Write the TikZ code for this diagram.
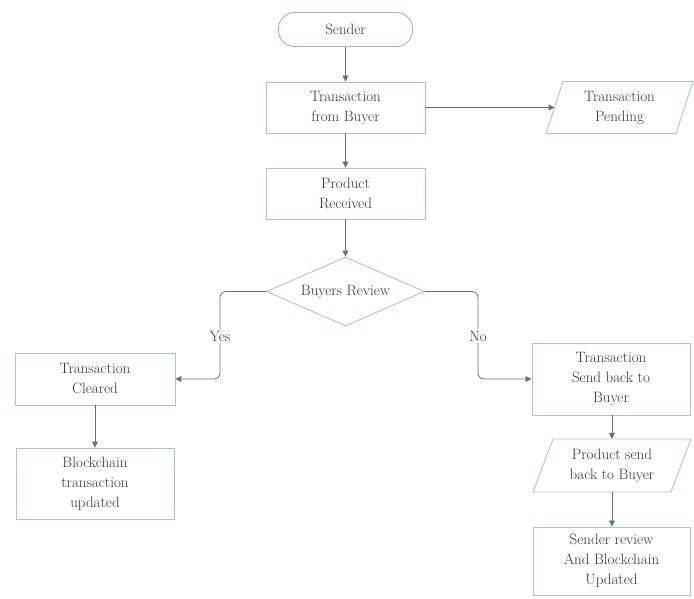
\documentclass[tikz,border=0pt]{standalone}
\usetikzlibrary{arrows.meta,shapes.geometric,calc}
\definecolor{boxc}{HTML}{A9C7C6}
\definecolor{termc}{HTML}{CFA49C}
\definecolor{linec}{HTML}{6E6E6E}
\definecolor{txtc}{HTML}{333333}
\begin{document}
\begin{tikzpicture}[x=1pt,y=-1pt,
  font=\fontsize{15}{20}\selectfont, text=txtc,
  box/.style={draw=boxc, line width=0.9pt, align=center, minimum width=159pt, minimum height=51pt, inner sep=2pt},
  term/.style={draw=termc, line width=0.9pt, rounded corners=16pt, minimum width=134pt, minimum height=34pt},
  iobox/.style={draw=none, align=center, inner sep=0pt, minimum height=52pt},
  ioshape/.style={draw=boxc, line width=0.9pt},
  dec/.style={draw=boxc, line width=0.9pt, diamond, aspect=2.29, inner sep=0pt, minimum width=158pt, minimum height=69pt},
  arr/.style={draw=linec, line width=0.8pt, -{Triangle[length=6pt,width=6pt]}},
  lbl/.style={fill=white, inner sep=1.5pt}]
\useasboundingbox (0,0) rectangle (694,598);

\node[term] (sender) at (345.5,29.5) {Sender};
\node[box] (tfb) at (345.5,107.5) {Transaction\\from Buyer};
\node[iobox, minimum width=110pt] (tp) at (619.5,107.5) {Transaction\\Pending};
\draw[ioshape] ($(tp.center)+(-73.5,26)$) -- ($(tp.center)+(-56.5,-26)$) -- ($(tp.center)+(73.5,-26)$) -- ($(tp.center)+(56.5,26)$) -- cycle;
\coordinate (tpw) at ($(tp.center)+(-65,0)$);
\node[box] (pr) at (345.5,193.5) {Product\\Received};
\node[dec] (br) at (345.5,291.5) {Buyers Review};
\node[box, minimum width=160pt, minimum height=52pt] (tc) at (95,379) {Transaction\\Cleared};
\node[box, minimum width=158pt, minimum height=71pt] (btu) at (95,483.5) {Blockchain\\transaction\\updated};
\node[box, minimum width=158pt, minimum height=72pt] (tsb) at (611,379) {Transaction\\Send back to\\Buyer};
\node[iobox, minimum width=115pt, minimum height=53pt] (psb) at (612,465.5) {Product send\\back to Buyer};
\draw[ioshape] ($(psb.center)+(-79,26.5)$) -- ($(psb.center)+(-59,-26.5)$) -- ($(psb.center)+(79,-26.5)$) -- ($(psb.center)+(59,26.5)$) -- cycle;
\node[box, minimum width=157pt, minimum height=68pt] (srb) at (611.5,561) {Sender review\\And Blockchain\\Updated};

\coordinate (ybend) at (220,336);
\coordinate (nbend) at (478,336);

\draw[arr] (sender.south) -- (tfb.north);
\draw[arr] (tfb.east) -- (tpw);
\draw[arr] (tfb.south) -- (pr.north);
\draw[arr] (pr.south) -- (br.north);
\draw[arr, rounded corners=6pt] (br.west) -| (ybend) |- (tc.east);
\draw[arr, rounded corners=6pt] (br.east) -| (nbend) |- (tsb.west);
\node[lbl] (yes) at (ybend) {Yes};
\node[lbl] (no) at (nbend) {No};
\draw[arr] (tc.south) -- (btu.north);
\draw[arr] (tsb.south -| psb.north) -- (psb.north);
\draw[arr] (psb.south) -- (srb.north -| psb.south);
\end{tikzpicture}
\end{document}
